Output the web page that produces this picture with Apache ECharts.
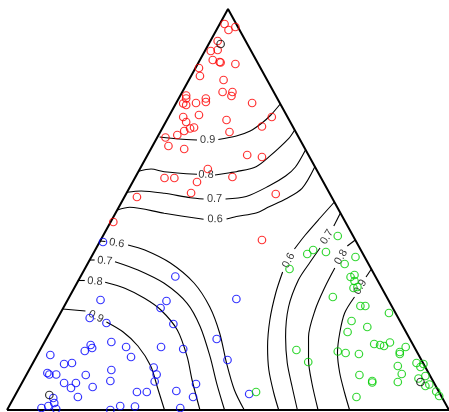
<!DOCTYPE html>
<html>
<head>
<meta charset="utf-8">
<script src="https://cdn.jsdelivr.net/npm/echarts@6/dist/echarts.min.js"></script>
<style>
  html, body { margin: 0; padding: 0; background: #fff; }
  #chart { width: 449px; height: 412px; }
</style>
</head>
<body>
<div id="chart"></div>
<script>
// ternary plot drawn in a flat space: base 0..449, height 0..401
var triangle = [[0, 0], [449, 0], [224.5, 401], [0, 0]];

var levels = ['0.6', '0.7', '0.8', '0.9'];

var redPts = [
    [221, 386], [225, 380], [232, 383], [214, 369], [207, 359], [214, 360], [209, 350], [216, 348],
    [217, 347.5], [232, 346], [195, 342], [196, 334], [220, 330], [219, 318], [229, 318], [228, 314],
    [182, 314.5], [182, 311.5], [179, 306.5], [182, 305], [192, 307], [202, 311.5], [202, 308], [249, 307],
    [179, 293], [195, 295], [182, 288], [190, 282.5], [186, 281.5], [180, 279], [223, 290], [226, 278],
    [269, 293], [259, 283.5], [173, 275], [161, 272.5], [164, 264], [180, 261], [244, 255], [259, 253],
    [204, 241], [160, 232], [170, 232], [193, 228], [229, 233], [187, 217], [132, 213], [273, 216],
    [108, 188], [259, 170]
];

var bluePts = [
    [97.5, 168], [95, 110], [84, 92], [101, 87], [171, 133.5], [233, 111], [162, 109], [156, 102],
    [169, 86], [213, 71], [106, 68], [85, 65], [86.5, 62], [79, 59], [121, 63], [126, 53],
    [156.5, 63], [179, 61], [224, 50], [44, 55], [58, 46], [66, 47], [41, 37], [43, 35.5],
    [50, 35.5], [80, 35], [106, 40], [105, 29], [149, 42.5], [152, 35.5], [150, 28.5], [58, 27],
    [70, 27], [65, 22], [87, 23], [72, 13], [47, 12], [48, 7], [35, 2], [42, 4],
    [50, 1], [132, 18], [142, 18], [172, 19], [192, 26], [189, 13], [176, 2], [246, 16],
    [105, 0], [115, 4], [130, 3.5]
];

var greenPts = [
    [336, 174], [311, 160], [305, 156], [324, 158], [354, 153], [343, 146], [287, 141], [349, 133],
    [353, 135], [353, 129], [352, 122], [356, 123], [331, 113], [359, 104], [364, 104], [388, 97],
    [350, 89], [346, 78], [366, 83], [373, 66], [379, 65], [383, 64], [389, 67.5], [405, 63],
    [399, 58], [399, 56], [294, 60], [336, 58.5], [344, 57], [357.5, 56], [306, 48], [397, 44],
    [416, 47], [420, 43], [423, 46], [401, 36], [358, 35], [371, 29], [371, 27.5], [397, 28],
    [418, 31.5], [425, 34], [425, 24], [429, 25.5], [436, 18.5], [439, 14], [355, 13], [253, 18]
];

var centrePts = [[217, 366], [43, 15], [420, 28]];

// each contour = [segment before label, segment after label], in levels order
var redContours = [
    [[[112, 200], [124.7, 202.7], [159.7, 196.7], [199.7, 190.7]],
     [[223, 191], [233, 193.5], [253, 197], [266.3, 203.3], [283, 211], [299.7, 221.7], [312.6, 243]]],
    [[[122, 217.7], [136.3, 219], [159.7, 216.7], [186.3, 212.3], [199.7, 211]],
     [[222, 211], [243, 213.5], [266, 224], [283, 234], [293, 243], [303.2, 260]]],
    [[[133.6, 238.7], [146.3, 241], [159.7, 238.3], [193, 235.7]],
     [[211.3, 235], [226.3, 237.3], [233, 238.3], [253, 243.3], [266.3, 253.3], [286.3, 271.7], [292.2, 280]]],
    [[[155, 273], [175, 271], [193, 270]],
     [[214.7, 270.5], [233, 274], [247, 279], [259, 287], [268, 295], [277.6, 306]]]
];

var blueContours = [
    [[[94.6, 169], [100, 168.5]],
     [[123, 165], [140, 160], [166, 147], [190, 127], [206, 103], [216, 77], [223, 47], [231, 20], [241, 0]]],
    [[[84.1, 150], [89, 150]],
     [[109.7, 148.3], [133, 140], [159.7, 126.7], [183, 106.7], [196.3, 83.3], [206.3, 53.3], [213, 26.7], [221, 0]]],
    [[[72.4, 129.5], [79, 129.5]],
     [[99.7, 127.7], [119.7, 121.7], [139.7, 111.7], [156.3, 100], [173, 80], [183, 53.3], [188, 30], [196, 0]]],
    [[[56.5, 101], [79.7, 99]],
     [[101, 88], [118, 78], [133, 64], [146, 44], [153, 22], [160, 0]]]
];

var greenContours = [
    [[[332.6, 208], [318, 192], [303, 175], [292, 161]],
     [[280, 138], [273, 117], [267, 90], [264.7, 63], [266, 40], [271, 17], [276, 0]]],
    [[[338.7, 197], [332, 184]],
     [[318, 162], [308, 148], [296, 130], [286, 103], [283, 73], [284.7, 47], [289.7, 23], [295, 0]]],
    [[[353.8, 170], [345.7, 164]],
     [[333, 142], [323, 123], [313, 100], [306.3, 73], [306.3, 50], [309.7, 27], [316, 0]]],
    [[[370.2, 141], [364.7, 133]],
     [[353, 113], [343, 97], [338, 77], [335.7, 57], [338, 37], [343, 17], [348, 0]]]
];

var myChart = echarts.init(document.getElementById('chart'));

var series = [];
var labelItems = [];

function addContours(contours) {
    contours.forEach(function (pair, i) {
        pair.forEach(function (seg) {
            series.push({
                type: 'line',
                data: seg,
                smooth: 0.3,
                symbol: 'none',
                silent: true,
                clip: false,
                lineStyle: { color: '#000', width: 1.1 },
                z: 2
            });
        });
        // label sits in the gap between the two segments
        var a = pair[0][pair[0].length - 1];
        var b = pair[1][0];
        var ang = Math.atan2(b[1] - a[1], b[0] - a[0]) * 180 / Math.PI;
        if (ang > 90) ang -= 180;
        if (ang < -90) ang += 180;
        labelItems.push({
            name: levels[i],
            value: [(a[0] + b[0]) / 2, (a[1] + b[1]) / 2],
            label: { rotate: Math.round(ang) }
        });
    });
}

addContours(redContours);
addContours(blueContours);
addContours(greenContours);

series.unshift({
    type: 'line',
    data: triangle,
    symbol: 'none',
    silent: true,
    clip: false,
    lineStyle: { color: '#000', width: 2 },
    z: 3
});

series.push({
    type: 'scatter',
    data: labelItems,
    symbolSize: 0,
    silent: true,
    clip: false,
    label: {
        show: true,
        position: 'inside',
        formatter: '{b}',
        color: '#000',
        textBorderWidth: 0,
        fontSize: 11,
        fontFamily: 'Liberation Sans'
    },
    z: 4
});

function pointSeries(data, color) {
    return {
        type: 'scatter',
        data: data,
        symbol: 'circle',
        symbolSize: 7.5,
        clip: false,
        itemStyle: { color: 'rgba(0,0,0,0)', borderColor: color, borderWidth: 1.2 },
        z: 5
    };
}

series.push(pointSeries(redPts, '#ff0000'));
series.push(pointSeries(bluePts, '#0000ff'));
series.push(pointSeries(greenPts, '#00cd00'));
series.push(pointSeries(centrePts, '#000000'));

var option = {
    animation: false,
    backgroundColor: '#fff',
    grid: { left: 7, top: 9, width: 449, height: 401 },
    xAxis: { type: 'value', min: 0, max: 449, show: false },
    yAxis: { type: 'value', min: 0, max: 401, show: false },
    series: series
};

myChart.setOption(option);
</script>
</body>
</html>
